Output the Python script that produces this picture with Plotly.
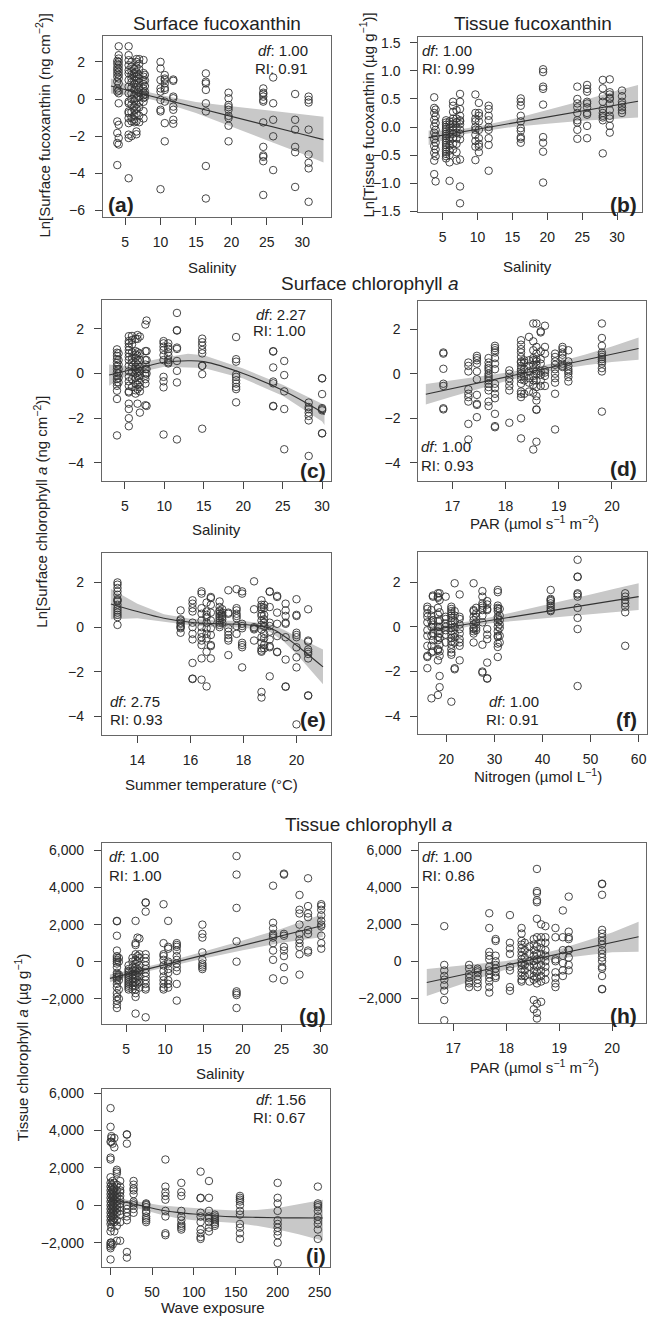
import plotly.graph_objects as go

W, H = 661, 1324

# (a) surface fucoxanthin vs salinity
a_x = [3.9, 4.1, 5.5, 5.9, 6.3, 6.6, 7.0, 7.6, 7.8, 10.0, 10.6, 11.8, 16.4, 19.6, 24.5, 25.9, 29.0, 30.9]
a_y = [[2.05, 1.9, 1.7, 1.55, 1.38, 1.2, 0.95, 0.57, 0.40, -1.21, -1.83, -2.37, -3.56],
       [2.84, 2.36, 2.18, 2.0, 1.82, 1.64, 1.47, 1.29, 1.11, 0.84, 0.45, 0.31, -0.23, -1.39, -2.10, -2.45],
       [2.84, 2.36, 2.09, 1.82, 1.55, 1.38, 1.02, 0.66, 0.31, -0.14, -0.23, -0.67, -0.76, -1.03, -1.30, -1.92, -2.10, -4.27],
       [2.0, 1.75, 1.5, 1.3, 1.1, 0.9, 0.6, 0.3, 0.0, -0.3, -0.7, -1.0, -1.2, -2.0],
       [1.6, 1.4, 1.2, 1.0, 0.8, 0.5, 0.2, -0.1, -0.4, -0.6, -0.9, -1.1, -1.25],
       [2.15, 2.0, 1.7, 1.45, 1.2, 1.0, 0.75, 0.5, 0.3, 0.05, -0.3, -0.5, -0.8, -1.2, -1.75, -1.9],
       [2.15, 1.9, 1.6, 1.3, 1.1, 0.9, 0.6, 0.35, 0.1, -0.2, -0.45, -0.9, -1.25],
       [2.1, 1.4, 1.2, 1.0, 0.8, 0.55, 0.35, 0.2, 0.05, -0.15, -0.65, -1.05],
       [1.3, 1.0, 0.7, 0.4, 0.25, 0.1],
       [2.0, 1.64, 1.02, 0.57, 0.40, -0.05, -0.58, -0.67, -4.86],
       [1.29, 1.1, 1.02, 0.84, 0.6, 0.49, -0.14, -1.30, -2.28],
       [1.05, 0.98, 0.13, 0.04, -0.41, -0.58, -1.12, -1.33],
       [1.38, 0.93, 0.84, 0.49, -0.23, -0.67, -3.61, -5.36],
       [0.34, 0.04, -0.32, -0.44, -0.58, -0.91, -1.03, -1.44, -2.28],
       [0.57, 0.34, 0.27, 0.13, -0.05, -0.14, -1.26, -2.58, -3.04, -3.12, -3.35, -5.17],
       [1.16, -0.23, -1.12, -2.01, -3.83],
       [0.27, -1.12, -1.65, -2.58, -2.87, -4.74],
       [0.13, -0.05, -0.19, -1.65, -2.99, -3.44, -3.74, -5.54]]
a_fx = [3, 5, 8, 10, 15, 20, 25, 30, 33]
a_fit = [0.70, 0.51, 0.22, 0.03, -0.46, -0.94, -1.42, -1.90, -2.19]
a_lo = [0.30, 0.21, 0.04, -0.15, -0.76, -1.49, -2.22, -2.95, -3.42]
a_hi = [1.10, 0.81, 0.40, 0.21, -0.16, -0.39, -0.62, -0.85, -0.96]

# (b) tissue fucoxanthin vs salinity
b_x = [3.8, 4.0, 5.5, 6.0, 6.5, 7.0, 7.5, 9.7, 10.2, 11.6, 16.2, 19.4, 24.3, 25.7, 27.95, 28.95, 30.7]
b_y = [[0.53, 0.34, 0.25, 0.13, 0.01, -0.10, -0.22, -0.34, -0.46, -0.60, -0.84],
       [0.31, 0.19, 0.07, -0.05, -0.16, -0.28, -0.40, -0.52, -0.97],
       [0.12, 0.08, 0.04, 0.0, -0.04, -0.08, -0.12, -0.16, -0.20, -0.24, -0.28, -0.32, -0.36, -0.40, -0.44, -0.48, -0.52, -0.56],
       [0.1, 0.05, -0.02, -0.1, -0.18, -0.25, -0.33, -0.42, -0.5, -0.63, -0.96],
       [0.45, 0.38, 0.27, 0.15, 0.10, 0.05, 0.0, -0.05, -0.12, -0.2, -0.3, -0.4],
       [0.3, 0.15, 0.08, -0.02, -0.1, -0.2, -0.3, -0.45, -0.6],
       [0.59, 0.45, 0.32, 0.2, 0.12, 0.1, 0.05, -0.05, -0.12, -0.22, -0.58, -1.06, -1.36],
       [0.58, 0.25, 0.15, 0.1, 0.0, -0.05, -0.14, -0.25, -0.35, -0.59],
       [0.43, 0.25, 0.2, 0.1, -0.05, -0.2, -0.3, -0.35, -0.45],
       [0.38, 0.32, 0.2, 0.12, 0.0, -0.05, -0.2, -0.32, -0.78],
       [0.51, 0.45, 0.38, 0.2, 0.1, -0.02, -0.07, -0.18, -0.21, -0.28],
       [1.03, 0.98, 0.72, 0.68, 0.40, -0.18, -0.28, -0.44, -0.99],
       [0.72, 0.5, 0.42, 0.35, 0.25, 0.12, 0.08, -0.05, -0.21],
       [0.75, 0.68, 0.63, 0.45, 0.42, 0.35, 0.25, 0.22, 0.02, -0.2],
       [0.84, 0.69, 0.55, 0.45, 0.32, 0.25, 0.2, 0.17, 0.12, -0.47],
       [0.85, 0.62, 0.58, 0.52, 0.50, 0.42, 0.3, 0.2, 0.15, 0.02, -0.1],
       [0.65, 0.55, 0.45, 0.4, 0.35, 0.3, 0.25]]
b_fx = [3, 5, 8, 10, 15, 20, 25, 30, 33]
b_fit = [-0.19, -0.15, -0.08, -0.04, 0.07, 0.18, 0.29, 0.40, 0.46]
b_lo = [-0.32, -0.24, -0.13, -0.09, 0.0, 0.06, 0.11, 0.15, 0.17]
b_hi = [-0.06, -0.06, -0.03, 0.01, 0.14, 0.30, 0.47, 0.65, 0.75]

# (c) surface chlorophyll a vs salinity
c_x = [4.0, 4.2, 5.5, 5.9, 6.35, 6.6, 6.9, 7.6, 7.75, 9.9, 10.5, 11.6, 14.8, 19.1, 23.8, 25.2, 28.3, 30.0]
c_y = [[1.08, 0.93, 0.79, 0.64, 0.49, 0.34, 0.19, 0.04, -0.10, -0.25, -0.40, -0.55, -0.77, -1.14, -2.77],
       [0.9, 0.6, 0.4, 0.2, 0.0, -0.2, -0.4],
       [1.67, 1.45, 1.35, 1.2, 1.05, 0.9, 0.75, 0.6, 0.35, 0.1, -0.15, -0.35, -0.55, -0.8, -0.85, -1.35, -1.59, -2.0, -2.36],
       [1.68, 1.5, 1.3, 0.95, 0.7, 0.5, 0.3, 0.05, -0.25, -0.6],
       [1.55, 1.0, 0.85, 0.7, 0.5, 0.3, 0.15, 0.0, -0.2, -0.45, -0.75, -0.9],
       [1.72, 1.55, 0.95, 0.8, 0.6, 0.4, 0.2, 0.05, -0.1, -0.3, -0.5, -0.7, -1.35],
       [1.65, 0.9, 0.6, 0.3, 0.1, -0.1, -0.4, -0.6, -0.8, -1.75],
       [2.19, 1.0, 0.6, 0.4, 0.2, 0.0, -0.1, -0.25, -0.45, -1.42],
       [2.37, 1.0, 0.6, 0.2, 0.0, -1.45],
       [1.45, 1.35, 1.2, 1.05, 0.82, 0.6, -0.15, -0.35, -0.62, -2.73],
       [1.35, 1.2, 1.1, 0.95, 0.8, 0.6, 0.5, 0.45],
       [2.71, 1.94, 1.92, 1.16, 1.1, 0.56, 0.12, -0.40, -2.95],
       [1.56, 1.4, 1.25, 1.05, 0.9, 0.34, 0.35, -0.03, -2.47],
       [1.63, 0.64, 0.53, -0.05, -0.15, -0.3, -0.45, -0.6, -0.7, -1.29],
       [1.0, 0.98, 0.27, -0.36, -0.44, -1.45, -1.47],
       [0.56, -0.07, -0.80, -1.59, -3.39],
       [-1.3, -1.5, -1.6, -1.75, -1.9, -2.1, -3.69],
       [-0.21, -0.22, -0.92, -1.55, -1.6, -1.65, -2.67, -2.68]]
c_fx = [3, 5, 8, 10, 13, 15, 20, 25, 30, 30.3]
c_fit = [-0.07, 0.10, 0.35, 0.50, 0.57, 0.53, 0.0, -0.75, -1.75, -1.85]
c_lo = [-0.55, -0.12, 0.14, 0.30, 0.27, 0.25, -0.22, -1.0, -2.15, -2.3]
c_hi = [0.40, 0.32, 0.56, 0.72, 0.88, 0.82, 0.22, -0.5, -1.35, -1.4]

# (d) surface chlorophyll a vs PAR
d_x = [16.83, 17.3, 17.46, 17.68, 17.8, 18.07, 18.29, 18.35, 18.44, 18.52, 18.58, 18.66, 18.74, 18.93, 19.07, 19.18, 19.81]
d_y = [[0.95, 0.9, 0.22, -0.45, -0.55, -1.55, -1.6],
       [0.5, 0.35, 0.1, -0.7, -0.9, -1.05, -1.25, -2.25, -2.95],
       [0.8, 0.7, 0.6, 0.45, 0.1, -0.25, -0.95, -1.35, -1.4, -1.95],
       [0.7, 0.5, 0.35, 0.25, 0.15, 0.0, -0.1, -0.2, -0.3, -0.45, -0.6, -0.75, -1.25, -1.45],
       [1.25, 1.15, 1.05, 0.95, 0.7, 0.45, 0.2, -0.45, -0.65, -0.9, -1.1, -1.8, -2.35, -2.4],
       [0.15, 0.0, -0.2, -0.35, -0.55, -0.75, -2.2],
       [1.5, 1.3, 1.1, 0.95, 0.75, 0.55, 0.5, 0.35, 0.2, 0.1, 0.0, -0.1, -0.25, -0.45, -0.8, -0.9, -1.05, -2.0, -2.9],
       [0.6, 0.5, 0.2, -0.1, -0.3, -0.9],
       [1.65, 0.6, 0.35, 0.1, -0.2, -0.4, -0.8],
       [2.25, 1.45, 1.05, 0.7, 0.6, 0.4, 0.2, -0.1, -0.3, -0.5, -0.85, -3.4],
       [2.25, 1.2, 0.9, 0.65, 0.55, 0.4, 0.1, 0.0, -0.3, -0.6, -1.0, -1.2, -1.6, -1.62, -3.05],
       [1.9, 1.85, 1.0, 0.65, 0.45, 0.1, -0.05, -0.3, -0.55],
       [2.15, 1.2, 0.9, 0.15, 0.05, -0.1, -0.55],
       [0.9, 0.75, 0.55, 0.4, 0.2, 0.0, -0.2, -0.4, -0.9, -2.5],
       [1.2, 1.1, 0.95, 0.85, 0.7, 0.45, 0.35, 0.3],
       [1.05, 0.55, 0.35, 0.2, 0.1, 0.0, -0.15, -0.35],
       [2.25, 1.6, 1.25, 0.95, 0.85, 0.75, 0.65, 0.55, 0.45, 0.25, 0.1, -1.7]]
d_fx = [16.5, 17, 17.5, 18, 18.5, 19, 19.5, 20, 20.5]
d_fit = [-0.92, -0.66, -0.41, -0.15, 0.10, 0.36, 0.62, 0.87, 1.13]
d_lo = [-1.38, -1.02, -0.67, -0.34, -0.05, 0.19, 0.38, 0.52, 0.62]
d_hi = [-0.46, -0.30, -0.15, 0.04, 0.25, 0.53, 0.86, 1.22, 1.62]

# (e) surface chlorophyll a vs summer temperature
e_x = [13.25, 15.63, 16.08, 16.42, 16.61, 16.77, 17.1, 17.2, 17.43, 17.74, 17.95, 18.4, 18.68, 18.78, 18.99, 19.27, 19.59, 20.0, 20.44]
e_y = [[2.0, 1.9, 1.75, 1.6, 1.45, 1.25, 1.2, 1.15, 1.0, 0.85, 0.75, 0.65, 0.55, 0.45, 0.1],
       [0.75, 0.35, 0.3, 0.2, 0.15, 0.05, 0.0, -0.05, -0.25],
       [1.2, 1.05, 0.85, 0.7, 0.2, 0.0, -0.3, -0.55, -1.6, -2.3, -2.32],
       [1.5, 1.6, 0.85, 0.6, 0.3, 0.0, -0.25, -0.45, -0.6, -0.8, -1.4, -2.35],
       [1.1, 0.7, 0.55, 0.45, 0.2, -0.05, -0.3, -0.5, -1.1, -2.65],
       [1.35, 1.3, 1.0, 0.65, 0.3, -0.05, -0.35, -0.8, -0.85, -1.4],
       [1.15, 0.9, 0.75, 0.7, 0.6, 0.5, 0.4, 0.3, 0.2, 0.1, 0.0],
       [0.8, 0.65, 0.55, 0.45, 0.35, 0.2],
       [1.65, 0.65, 0.6, -0.05, -0.2, -0.35, -0.5, -0.6, -1.25],
       [1.7, 0.85, 0.75, 0.6, 0.5, 0.4, 0.05, -0.3],
       [1.6, 1.5, 0.15, 0.05, -0.05, -0.7, -0.8, -0.9, -1.8],
       [2.05, 0.8, 0.0, -0.05, -0.1, -0.6],
       [1.2, 1.0, 0.9, 0.8, 0.6, 0.5, 0.3, 0.1, -0.1, -0.45, -0.7, -0.95, -1.05, -1.1, -2.9, -3.15],
       [1.0, 0.85, 0.55, 0.35, 0.2, 0.05, -0.3, -0.5, -0.8, -0.95],
       [1.6, 1.58, 0.9, 0.2, 0.05, -0.2, -0.55, -0.85, -0.9, -2.2],
       [1.4, 1.35, 0.65, 0.15, -0.4, -1.1, -1.12],
       [1.05, 0.75, 0.5, 0.2, 0.15, -0.45, -1.45, -2.65, -2.67],
       [1.25, 0.55, 0.5, -0.25, -0.35, -0.45, -0.9, -1.35, -1.8, -4.35],
       [0.8, -0.6, -0.65, -1.0, -1.1, -1.2, -1.4, -3.05, -3.07]]
e_fx = [13.0, 14, 15, 16, 17, 18, 19, 19.5, 20, 21]
e_fit = [1.04, 0.70, 0.40, 0.22, 0.15, 0.12, -0.04, -0.37, -0.81, -1.78]
e_lo = [0.35, 0.40, 0.25, 0.08, 0.0, -0.02, -0.22, -0.62, -1.20, -2.55]
e_hi = [1.72, 1.05, 0.58, 0.38, 0.30, 0.27, 0.14, -0.10, -0.42, -1.0]

# (f) surface chlorophyll a vs nitrogen
f_x = [16.05, 16.9, 17.2, 18.25, 18.6, 19.86, 21.04, 21.73, 22.77, 25.67, 26.2, 27.5, 28.5, 30.7, 31.1, 41.7, 47.3, 57.2]
f_y = [[0.9, 0.8, 0.6, 0.45, 0.2, -0.15, -0.4, -0.85, -1.3, -1.35, -1.85],
       [0.75, 0.5, 0.25, 0.0, -0.4, -0.85, -1.15, -3.2],
       [1.4, 1.35, 0.3, 0.1, -0.3, -0.6, -1.1],
       [1.35, 1.5, 1.3, 0.85, 0.55, 0.25, 0.0, -0.2, -0.45, -0.6, -1.0, -1.05, -1.5, -3.05],
       [1.5, 1.2, 0.65, 0.3, 0.0, -0.3, -0.5, -0.8, -1.1, -1.3, -2.2, -2.7],
       [1.35, 0.45, 0.35, 0.15, 0.0, -0.15, -0.35, -0.7],
       [0.9, 0.8, 0.7, 0.6, 0.5, 0.4, 0.25, 0.1, -0.05, -0.2, -0.35, -0.5, -0.65, -0.8, -1.0, -1.15, -1.25, -3.35],
       [1.95, 0.7, 0.5, 0.25, 0.0, -0.3, -0.45, -0.7, -1.85, -1.9],
       [1.45, 0.45, 0.35, 0.1, -0.1, -0.3, -0.55, -0.7, -0.85, -1.5],
       [1.95, 0.75, 0.7, 0.45, 0.3, 0.1, -0.05, -0.1, -0.2, -0.3, -0.7],
       [0.85, 0.6, 0.45, 0.2, -0.05, -0.15],
       [1.6, 1.35, 1.05, 0.95, 0.85, 0.75, 0.5, 0.2, -0.8, -2.0, -2.05],
       [1.15, 1.0, 0.8, 0.75, -0.1, -0.35, -0.55, -1.6, -2.3, -2.32],
       [1.65, 1.55, 0.95, 0.85, 0.8, 0.7, 0.45, 0.35, 0.2, 0.0, -0.2, -0.4, -0.45, -0.75, -0.9, -1.35],
       [0.8, 0.5, 0.3, 0.1, -0.05, -0.4, -0.7],
       [1.65, 1.25, 1.2, 1.15, 1.05, 0.95, 0.85, 0.75, 0.7],
       [3.0, 2.25, 2.23, 1.5, 1.45, 1.35, 0.85, 0.4, -0.1, -2.65],
       [1.5, 1.35, 1.2, 1.05, 0.9, 0.65, -0.85]]
f_fx = [16.5, 20, 25, 30, 35, 40, 45, 50, 55, 60]
f_fit = [-0.15, -0.03, 0.14, 0.32, 0.49, 0.66, 0.83, 1.00, 1.18, 1.35]
f_lo = [-0.33, -0.17, 0.03, 0.18, 0.28, 0.36, 0.45, 0.55, 0.65, 0.75]
f_hi = [0.03, 0.11, 0.25, 0.46, 0.70, 0.96, 1.21, 1.45, 1.70, 1.95]

# (g) tissue chlorophyll a vs salinity
g_x = [3.8, 4.05, 5.3, 5.8, 6.2, 6.45, 6.7, 7.5, 9.8, 10.4, 11.5, 14.8, 19.2, 23.9, 25.3, 27.3, 28.4, 30.1]
g_y = [[2200, 2180, 1400, 600, 300, 200, 100, 0, -100, -300, -600, -700, -800, -900, -1000, -1200, -1400, -1700, -1900, -2100, -2300, -2500],
       [200, 0, -700, -800, -1000, -1500, -2000],
       [-200, -400, -500, -600, -700, -800, -900, -1000, -1100, -1200, -1300, -1400, -1500],
       [200, 0, -300, -500, -700, -900, -1100, -1300, -1500],
       [2200, 1000, 900, 400, 100, -100, -300, -500, -700, -900, -1100, -1300, -1500, -1700, -1900, -2800],
       [1300, 300, 0, -400, -600, -800, -1000, -1200],
       [1250, 400, 200, -200, -500, -800, -1100, -1400],
       [3200, 3180, 2700, 400, 200, 0, -200, -400, -600, -800, -1000, -1200, -1400, -1500, -3000],
       [3100, 1000, 400, 300, 100, -200, -500, -800, -1000, -1200, -1400, -1500],
       [2200, 800, 700, 0, -100, -400, -600, -1000, -1200, -1400],
       [1000, 900, 800, 600, 300, 100, -100, -300, -500, -1200, -2100],
       [2000, 1500, 1300, 500, 100, -100, -200, -300, -400],
       [5700, 4700, 2900, 1100, 0, -1600, -1700, -1800, -2500],
       [4100, 2100, 1800, 1500, 1400, 1300, 1000, 600, 100, -900],
       [4750, 4700, 1500, 1400, 800, 600, 300, -300, -1000],
       [3600, 2800, 2600, 2000, 1500, 1200, 1000, 800, 400, -700],
       [4500, 3000, 2600, 2400, 1700, 1500, 600, 500],
       [3100, 3000, 2800, 2500, 2200, 2000, 1900, 1400, 1000, 700]]
g_fx = [2.9, 5, 8, 10, 12, 15, 20, 25, 30.3]
g_fit = [-900, -682, -370, -162, 46, 358, 878, 1398, 1950]
g_lo = [-1110, -850, -500, -290, -100, 170, 620, 1020, 1330]
g_hi = [-690, -510, -240, -30, 190, 550, 1140, 1780, 2570]

# (h) tissue chlorophyll a vs PAR
h_x = [16.83, 17.3, 17.46, 17.68, 17.8, 18.07, 18.29, 18.35, 18.44, 18.52, 18.58, 18.66, 18.74, 18.93, 19.07, 19.18, 19.81]
h_y = [[1900, -200, -500, -800, -1000, -1300, -1600, -2100, -3200],
       [-200, -400, -700, -900, -1100, -1200, -1400],
       [-400, -500, -600, -800, -1000, -1200, -1400],
       [2600, 1800, 500, 300, 100, -300, -500, -700, -900, -1100, -1400, -1700],
       [1200, 1100, 300, 0, -200, -400, -600, -800, -900],
       [2500, 1000, 700, 400, -300, -500, -1400, -1600],
       [1800, 1500, 1100, 900, 700, 500, 300, 100, -100, -200, -400, -600, -800, -1000, -1100],
       [1000, 600, 200, -200, -500, -800],
       [800, 400, 0, -300, -700, -1100],
       [1200, 900, 600, 300, 0, -200, -500, -800, -1000, -2100, -2600],
       [5000, 3800, 3700, 3300, 3200, 2300, 1300, 800, 400, 100, -300, -600, -900, -1200, -2300, -2800, -3100],
       [2000, 1300, 1000, 700, 400, 100, -200, -500, -800, -1100, -2200],
       [1900, 1300, 1000, 600, 300, 0, -300, -600, -1000],
       [1800, 1300, 100, 0, -600, -900, -1200, -1400],
       [2750, 1300, 600, 300, -100, -500, -800],
       [3500, 1600, 1300, 1200, 600, 620, 200, -200, -500],
       [4200, 4180, 3600, 1700, 1500, 1300, 1100, 900, 600, 400, 200, 0, -300, -400, -800, -1500, -1520]]
h_fx = [16.5, 17, 17.5, 18, 18.5, 19, 19.5, 20, 20.5]
h_fit = [-1150, -840, -530, -220, 90, 400, 710, 1020, 1330]
h_lo = [-1880, -1390, -910, -450, -110, 150, 330, 480, 520]
h_hi = [-420, -290, -150, 10, 290, 650, 1090, 1560, 2140]

# (i) tissue chlorophyll a vs wave exposure
i_x = [0.5, 1.5, 3, 5, 8, 12, 20, 28, 43, 66, 85, 108, 118, 125, 155, 200, 248]
i_y = [[5200, 4200, 3400, 2550, 2450, 1500, 1200, 1000, 800, 600, 400, 200, 0, -200, -400, -600, -800, -1000, -1400, -2000, -2100, -2200, -2300, -2900],
       [3700, 3600, 3400, 1100, 900, 700, 500, 300, 100, -100, -300, -500, -700, -900, -1200, -2000],
       [3300, 1300, 1000, 800, 600, 400, 200, 0, -200, -400, -600, -800, -2100],
       [3600, 3100, 1200, 900, 700, 500, 300, 100, -100, -300, -500, -700, -900, -1400],
       [1900, 1800, 1700, 1100, 800, 600, 400, 200, 0, -200, -400, -800, -1100, -1900],
       [1300, 1000, 800, 700, 500, 300, 100, -100, -300, -500, -900, -1900],
       [3800, 3780, 3300, 0, -200, -400, -600, -800, -2500, -2800],
       [1300, 1100, 900, 800, 600, 200, 100, 0, -200, -400],
       [100, 50, 0, -100, -300, -400, -600, -700, -800, -900],
       [2450, 1000, 700, 500, 300, -300, -600, -1500, -1600],
       [1200, 700, 500, -300, -600, -800, -1000, -1100, -1200, -1300],
       [1800, 400, 380, -400, -600, -900, -1300, -1500, -1700, -1800],
       [1300, 400, -300, -600, -700, -900, -1200, -1400],
       [-500, -600, -700, -800, -900, -1000, -1100],
       [500, 400, 300, 200, 0, -300, -500, -1000, -1200, -1500, -1800],
       [1200, 400, 100, -300, -800, -1000, -1200, -1400, -1600, -2000, -3100],
       [1000, 100, 0, -100, -300, -600, -800, -1000, -1300, -1800]]
i_fx = [0, 20, 40, 60, 80, 100, 125, 150, 175, 200, 225, 254]
i_fit = [300, 150, -50, -250, -380, -470, -560, -620, -650, -670, -675, -680]
i_lo = [100, 0, -250, -500, -700, -800, -880, -950, -1100, -1300, -1550, -1900]
i_hi = [500, 300, 150, 0, -80, -150, -230, -280, -250, -150, 50, 300]


def expand(xs, groups):
    px, py = [], []
    for x, ys in zip(xs, groups):
        px += [x] * len(ys)
        py += ys
    return px, py


# box = left, top, right, bottom in pixels
panels = [
    dict(box=(103, 32, 332, 215), xr=[1.86, 34.13], yr=[-6.37, 3.41], xt=[5, 10, 15, 20, 25, 30], yt=[-6, -4, -2, 0, 2], yf='',
         pts=(a_x, a_y), fit=(a_fx, a_fit, a_lo, a_hi), curve=False),
    dict(box=(419, 33, 643, 210), xr=[1.53, 33.57], yr=[-1.52, 1.61], xt=[5, 10, 15, 20, 25, 30],
         yt=[-1.5, -1.0, -0.5, 0.0, 0.5, 1.0, 1.5], yf='.1f', pts=(b_x, b_y), fit=(b_fx, b_fit, b_lo, b_hi), curve=False),
    dict(box=(102, 298, 332, 481), xr=[2.08, 31.19], yr=[-4.81, 3.31], xt=[5, 10, 15, 20, 25, 30], yt=[-4, -2, 0, 2], yf='',
         pts=(c_x, c_y), fit=(c_fx, c_fit, c_lo, c_hi), curve=True),
    dict(box=(419, 299, 647, 481), xr=[16.36, 20.64], yr=[-4.81, 3.28], xt=[17, 18, 19, 20], yt=[-4, -2, 0, 2], yf='',
         pts=(d_x, d_y), fit=(d_fx, d_fit, d_lo, d_hi), curve=False),
    dict(box=(102, 554, 332, 737), xr=[12.66, 21.32], yr=[-4.82, 3.30], xt=[14, 16, 18, 20], yt=[-4, -2, 0, 2], yf='',
         pts=(e_x, e_y), fit=(e_fx, e_fit, e_lo, e_hi), curve=True),
    dict(box=(419, 553, 648, 736), xr=[14.18, 61.74], yr=[-4.79, 3.33], xt=[20, 30, 40, 50, 60], yt=[-4, -2, 0, 2], yf='',
         pts=(f_x, f_y), fit=(f_fx, f_fit, f_lo, f_hi), curve=False),
    dict(box=(102, 846, 332, 1029), xr=[1.86, 31.42], yr=[-3387, 6405], xt=[5, 10, 15, 20, 25, 30],
         yt=[-2000, 0, 2000, 4000, 6000], yf=',', pts=(g_x, g_y), fit=(g_fx, g_fit, g_lo, g_hi), curve=False),
    dict(box=(420, 846, 647, 1028), xr=[16.36, 20.64], yr=[-3371, 6407], xt=[17, 18, 19, 20],
         yt=[-2000, 0, 2000, 4000, 6000], yf=',', pts=(h_x, h_y), fit=(h_fx, h_fit, h_lo, h_hi), curve=False),
    dict(box=(102, 1094, 331, 1274), xr=[-9.9, 263.1], yr=[-3327, 6230], xt=[0, 50, 100, 150, 200, 250],
         yt=[-2000, 0, 2000, 4000, 6000], yf=',', pts=(i_x, i_y), fit=(i_fx, i_fit, i_lo, i_hi), curve=True),
]

FONT = 'Liberation Sans, Arial, Helvetica, sans-serif'
INK = '#222'

fig = go.Figure()
layout_axes = {}
for k, p in enumerate(panels):
    n = '' if k == 0 else str(k + 1)
    xa, ya = 'x' + n, 'y' + n
    L, T, R, B = p['box']
    fx, fy, flo, fhi = p['fit']
    shape = 'spline' if p['curve'] else 'linear'
    fig.add_trace(go.Scatter(x=fx + fx[::-1], y=fhi + flo[::-1], fill='toself', fillcolor='#c8c8c8',
                             mode='lines', line=dict(width=0), hoverinfo='skip',
                             xaxis=xa, yaxis=ya))
    px, py = expand(*p['pts'])
    fig.add_trace(go.Scatter(x=px, y=py, mode='markers',
                             marker=dict(symbol='circle-open', size=7.5, color='#333', line=dict(width=0.9)),
                             xaxis=xa, yaxis=ya))
    fig.add_trace(go.Scatter(x=fx, y=fy, mode='lines', line=dict(color='#333', width=1.1, shape=shape),
                             xaxis=xa, yaxis=ya))
    common = dict(ticks='outside', ticklen=7, tickwidth=1, tickcolor='#444', showline=True, linecolor='#666',
                  linewidth=1, mirror=True, showgrid=False, zeroline=False,
                  tickfont=dict(family=FONT, size=14, color=INK))
    layout_axes['xaxis' + n] = dict(domain=[L / W, R / W], range=p['xr'], tickvals=p['xt'], anchor=ya,
                                    ticklabelstandoff=5, **common)
    layout_axes['yaxis' + n] = dict(domain=[1 - B / H, 1 - T / H], range=p['yr'], tickvals=p['yt'],
                                    tickformat=p['yf'], anchor=xa, ticklabelstandoff=7, **common)

fig.update_layout(**layout_axes)

ann = []


def text(x, y, s, size=15, xanchor='center', angle=0, yanchor='middle'):
    ann.append(dict(x=x / W, y=1 - y / H, xref='paper', yref='paper', text=s, showarrow=False,
                    xanchor=xanchor, yanchor=yanchor, textangle=angle,
                    font=dict(family=FONT, size=size, color=INK)))


# panel titles
text(217.5, 20, 'Surface fucoxanthin', 19)
text(534, 20, 'Tissue fucoxanthin', 19)
text(370, 282, 'Surface chlorophyll <i>a</i>', 19)
text(369, 827, 'Tissue chlorophyll <i>a</i>', 19)

# df / RI labels and panel letters
stats = [
    ('1.00', '0.91', 310, 46.7, 65, 'right', '(a)', 106, 201.7, 'left'),
    ('1.00', '0.99', 421, 46.7, 65, 'left', '(b)', 640, 201.7, 'right'),
    ('2.27', '1.00', 308, 313.3, 329.3, 'right', '(c)', 328, 470, 'right'),
    ('1.00', '0.93', 420, 446.7, 465, 'left', '(d)', 640, 468, 'right'),
    ('2.75', '0.93', 108, 703, 721.7, 'left', '(e)', 328, 721.7, 'right'),
    ('1.00', '0.91', 542, 703, 721.7, 'right', '(f)', 640, 721.7, 'right'),
    ('1.00', '1.00', 107, 860, 878.3, 'left', '(g)', 328, 1020, 'right'),
    ('1.00', '0.86', 421, 860, 878.3, 'left', '(h)', 640, 1020, 'right'),
    ('1.56', '0.67', 308, 1105, 1123.3, 'right', '(i)', 328, 1261.7, 'right'),
]
for df, ri, sx, dy, ry, sa, lab, lx, ly, la in stats:
    text(sx, dy, '<i>df</i>: ' + df, 15, sa)
    text(sx, ry, 'RI: ' + ri, 15, sa)
    text(lx, ly, '<b>' + lab + '</b>', 21, la)

# x axis titles
par = 'PAR (µmol s<sup>−1</sup> m<sup>−2</sup>)'
text(213, 265.7, 'Salinity')
text(528.5, 265, 'Salinity')
text(216.7, 530, 'Salinity')
text(535, 523, par)
text(211.5, 786.7, 'Summer temperature (°C)')
text(539, 778, 'Nitrogen (µmol L<sup>−1</sup>)')
text(221, 1078.3, 'Salinity')
text(535, 1071, par)
text(213, 1314, 'Wave exposure')

# y axis titles
text(43, 121.7, 'Ln[Surface fucoxanthin (ng cm<sup>−2</sup>)]', angle=-90)
text(367, 112, 'Ln[Tissue fucoxanthin (µg g<sup>−1</sup>)]', angle=-90)
text(41, 512, 'Ln[Surface chlorophyll <i>a</i> (ng cm<sup>−2</sup>)]', angle=-90)
text(21, 1052, 'Tissue chlorophyll <i>a</i> (µg g<sup>−1</sup>)', angle=-90)

fig.update_layout(width=W, height=H, margin=dict(l=0, r=0, t=0, b=0), showlegend=False,
                  paper_bgcolor='white', plot_bgcolor='white', annotations=ann,
                  font=dict(family=FONT, color=INK))

# the page body has a default 8px margin; drop it so the figure sits at the window corner
fig.write_html("out.html", config={'displayModeBar': False},
               post_script="document.body.style.margin='0';")
